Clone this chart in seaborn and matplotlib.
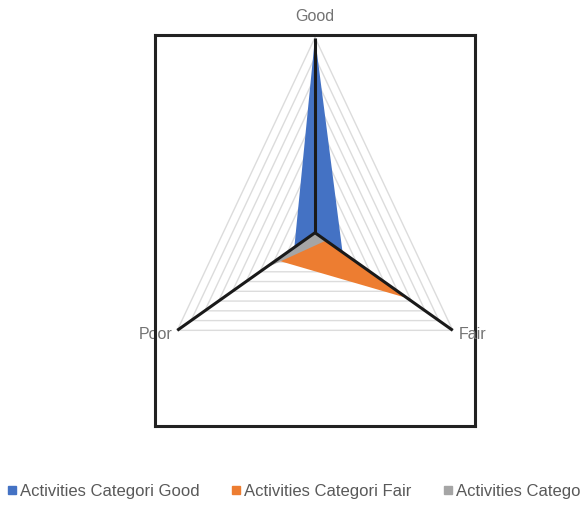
import numpy as np
import pandas as pd
import matplotlib
matplotlib.use("Agg")
import matplotlib.pyplot as plt
from matplotlib.lines import Line2D
import seaborn as sns

# Radar categories (clockwise from the top) and series values (scale 0-100)
categories = ["Good", "Fair", "Poor"]
series_names = ["Activities Categori Good", "Activities Categori Fair", "Activities Catego"]
good_values = [100, 20, 15]
fair_values = [0, 67, 28]
poor_values = [0, 8, 37]
grid_levels = [10, 20, 30, 40, 50, 60, 70, 80, 90, 100]
axis_max = 100

series_values = [good_values, fair_values, poor_values]
series_colors = ["#4472C4", "#ED7D31", "#A5A5A5"]

sns.set_theme(style="white")
plt.rcParams["font.family"] = ["Liberation Sans", "DejaVu Sans"]

angles = np.deg2rad([90, -30, 210])


def to_xy(values):
    r = np.asarray(values, dtype=float) / axis_max
    return r * np.cos(angles), r * np.sin(angles)


fig = plt.figure(figsize=(5.81, 5.06), dpi=100)
ax = fig.add_axes([155 / 581, 1 - 427 / 506, 320 / 581, 391 / 506])

# Concentric triangular gridlines
rows = []
for lvl in grid_levels:
    gx, gy = to_xy([lvl] * 3)
    for i in list(range(3)) + [0]:
        rows.append({"level": lvl, "x": gx[i], "y": gy[i]})
grid_df = pd.DataFrame(rows)
sns.lineplot(data=grid_df, x="x", y="y", units="level", estimator=None,
             sort=False, color="#dcdcdc", linewidth=1.0, ax=ax, zorder=1)

# Filled series
for vals, col in zip(series_values, series_colors):
    sx, sy = to_xy(vals)
    ax.fill(sx, sy, color=col, linewidth=0, zorder=2)

# Spokes
sx, sy = to_xy([axis_max] * 3)
for i in range(3):
    ax.plot([0, sx[i]], [0, sy[i]], color="#1a1a1a", linewidth=2.2,
            solid_capstyle="butt", zorder=3)

# Category labels
label_color = "#737373"
ax.text(0, 1.115, categories[0], ha="center", va="center", fontsize=11.5,
        color=label_color, clip_on=False)
ax.text(sx[1] + 0.04, sy[1] - 0.015, categories[1], ha="left", va="center",
        fontsize=11.5, color=label_color, clip_on=False)
ax.text(sx[2] - 0.03, sy[2] - 0.015, categories[2], ha="right", va="center",
        fontsize=11.5, color=label_color, clip_on=False, zorder=0)

ax.set_xlim(-1.006, 1.006)
ax.set_ylim(-0.99, 1.013)
ax.set_xticks([])
ax.set_yticks([])
ax.set_xlabel("")
ax.set_ylabel("")
for sp in ax.spines.values():
    sp.set_visible(True)
    sp.set_color("#222222")
    sp.set_linewidth(2.2)

# Legend along the bottom
handles = [Line2D([], [], marker="s", linestyle="none", markersize=6,
                  markerfacecolor=c, markeredgecolor=c) for c in series_colors]
fig.legend(handles, series_names, loc="center left",
           bbox_to_anchor=(0 / 581, 1 - 492 / 506), ncol=3, frameon=False,
           fontsize=12, handlelength=0.6, handletextpad=0.2,
           columnspacing=1.88, labelcolor="#595959", borderaxespad=0)

fig.savefig("out.png", dpi=100)
